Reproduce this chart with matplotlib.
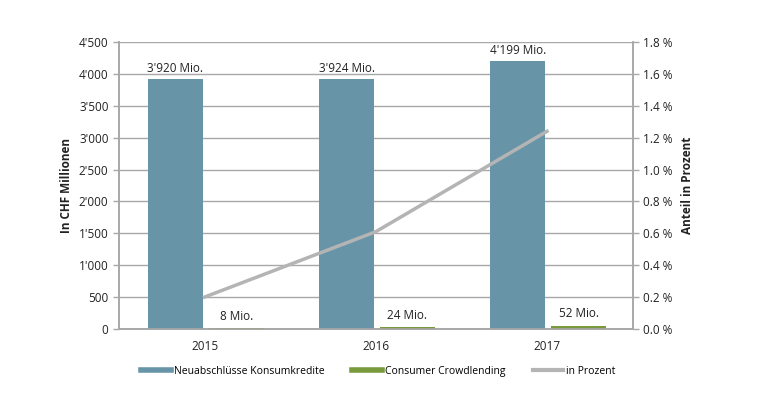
import numpy as np
import matplotlib.pyplot as plt
from matplotlib.lines import Line2D

# --- data ---
years = ["2015", "2016", "2017"]
konsumkredite = [3920, 3924, 4199]
crowdlending = [8, 24, 52]
prozent = [0.20, 0.61, 1.24]
labels_konsum = ["3'920 Mio.", "3'924 Mio.", "4'199 Mio."]
labels_crowd = ["8 Mio.", "24 Mio.", "52 Mio."]
left_ticks = [0, 500, 1000, 1500, 2000, 2500, 3000, 3500, 4000, 4500]
right_ticks = [0.0, 0.2, 0.4, 0.6, 0.8, 1.0, 1.2, 1.4, 1.6, 1.8]

plt.rcParams['font.family'] = ['Open Sans', 'DejaVu Sans']
BLUE = '#6894a8'
GREEN = '#789a3c'
GRAY = '#b4b4b4'
GRID = '#a8a8a8'
TXT = '#222222'

fig = plt.figure(figsize=(7.7, 3.93), dpi=100)
ax = fig.add_axes([0.1545, 0.163, 0.667, 0.73])
ax2 = ax.twinx()

x = np.arange(len(years))
w = 0.32
ax.bar(x - 0.17, konsumkredite, w, color=BLUE, zorder=3)
ax.bar(x + 0.185, crowdlending, w, color=GREEN, zorder=3)

for i in range(len(years)):
    ax.text(x[i] - 0.17, konsumkredite[i] + 60, labels_konsum[i], ha='center', va='bottom',
            fontsize=8.5, color=TXT)
    ax.text(x[i] + 0.185, crowdlending[i] + 90, labels_crowd[i], ha='center', va='bottom',
            fontsize=8.5, color=TXT)

ax2.plot(x, prozent, color=GRAY, linewidth=2.5, zorder=4)

ax.set_xlim(-0.5, 2.5)
ax.set_ylim(0, 4500)
ax2.set_ylim(0, 1.8)
ax.set_yticks(left_ticks)
ax.set_yticklabels([f"{v:,}".replace(",", "'") for v in left_ticks])
ax2.set_yticks(right_ticks)
ax2.set_yticklabels([f"{v:.1f} %" for v in right_ticks])
ax.set_xticks(x)
ax.set_xticklabels(years)

ax.grid(axis='y', color=GRID, linewidth=1, zorder=0)
ax.set_axisbelow(True)

for a in (ax, ax2):
    for s in a.spines.values():
        s.set_color(GRID)
        s.set_linewidth(1.2)
    a.spines['top'].set_visible(False)
    a.tick_params(axis='y', colors=GRID, labelcolor=TXT, labelsize=8.5, length=4, width=1)
ax.tick_params(axis='x', length=0, labelsize=8.5, labelcolor=TXT, pad=8)

ax.set_ylabel("In CHF Millionen", fontsize=8.5, fontweight='bold', color=TXT, labelpad=4)
ax2.set_ylabel("Anteil in Prozent", fontsize=8.5, fontweight='bold', color=TXT, labelpad=6)

handles = [Line2D([0], [0], color=BLUE, linewidth=4),
           Line2D([0], [0], color=GREEN, linewidth=4),
           Line2D([0], [0], color=GRAY, linewidth=3)]
fig.legend(handles, ["Neuabschlüsse Konsumkredite", "Consumer Crowdlending", "in Prozent"],
           loc='center', bbox_to_anchor=(0.491, 0.055), ncol=3, frameon=False,
           fontsize=7.5, handlelength=2.9, handletextpad=0.3, columnspacing=2.6)

fig.savefig('out.png', dpi=100)
